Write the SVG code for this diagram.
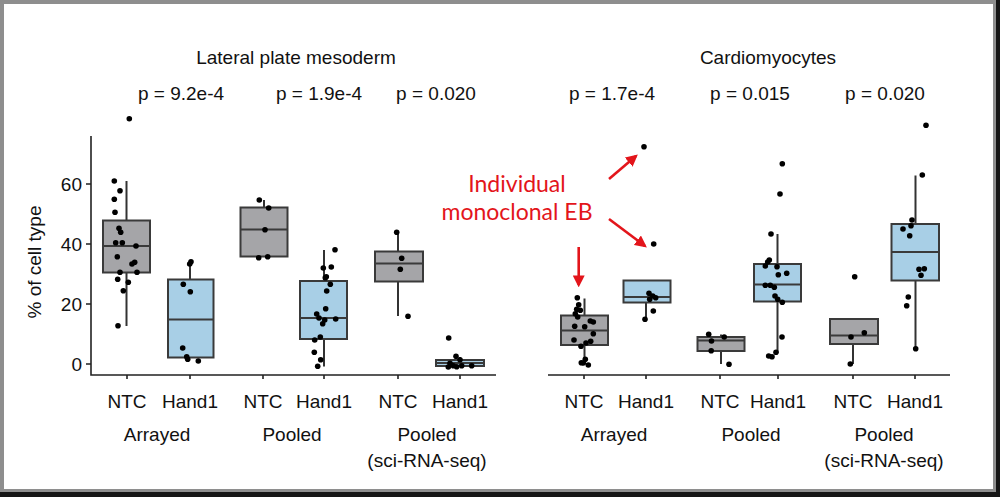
<svg xmlns="http://www.w3.org/2000/svg" width="1000" height="497" viewBox="0 0 1000 497">
<style>
.t{font-family:"Liberation Sans",Arial,sans-serif;font-size:19px;fill:#111;text-anchor:middle}
.yl{font-family:"Liberation Sans",Arial,sans-serif;font-size:19px;fill:#111;text-anchor:end}
.red{font-family:Lato,"Open Sans",sans-serif;font-size:23px;fill:#e3151b;text-anchor:middle}
.ax{stroke:#222;stroke-width:1.6;fill:none}
.wh{stroke:#333;stroke-width:2;fill:none}
.bg{fill:#a5a5a8;stroke:#3a3a3a;stroke-width:2}
.bb{fill:#a8cfe6;stroke:#3a3a3a;stroke-width:2}
.md{stroke:#3a3a3a;stroke-width:2}
.pt circle{fill:#000}
.arr{stroke:#e3151b;stroke-width:2.6;fill:none;marker-end:url(#ah)}
</style>
<defs>
<marker id="ah" viewBox="0 0 10 10" refX="8" refY="5" markerWidth="4.6" markerHeight="4.6" orient="auto" markerUnits="strokeWidth">
<path d="M0,0 L10,5 L0,10 z" fill="#e3151b"/>
</marker>
</defs>
<g id="frame">
<rect x="0" y="0" width="1000" height="497" fill="#8e8e8e"/>
<rect x="996" y="0" width="4" height="497" fill="#151515"/>
<rect x="0" y="492" width="1000" height="5" fill="#151515"/>
<rect x="4" y="4" width="989" height="485" fill="#ffffff"/>
</g>
<g id="titles">
<text class="t" x="296" y="64">Lateral plate mesoderm</text>
<text class="t" x="768" y="64">Cardiomyocytes</text>
<text class="t" x="181" y="100">p = 9.2e-4</text>
<text class="t" x="319" y="100">p = 1.9e-4</text>
<text class="t" x="436" y="100">p = 0.020</text>
<text class="t" x="612" y="100">p = 1.7e-4</text>
<text class="t" x="750" y="100">p = 0.015</text>
<text class="t" x="885" y="100">p = 0.020</text>
</g>
<g id="axes">
<path class="ax" d="M91,136 V375 H496 M548,375 H950"/>
<path class="ax" d="M86,184 H91 M86,244 H91 M86,304 H91 M86,364 H91"/>
<path class="ax" d="M127,375 v4 M190,375 v4 M263,375 v4 M324,375 v4 M398,375 v4 M460,375 v4 M584,375 v4 M646,375 v4 M720,375 v4 M778,375 v4 M853,375 v4 M915,375 v4"/>
<text class="yl" x="82" y="191">60</text>
<text class="yl" x="82" y="251">40</text>
<text class="yl" x="82" y="311">20</text>
<text class="yl" x="82" y="371">0</text>
<text class="t" transform="translate(41,262) rotate(-90)">% of cell type</text>
</g>
<g id="xlabels">
<text class="t" x="127" y="408">NTC</text>
<text class="t" x="190" y="408">Hand1</text>
<text class="t" x="263" y="408">NTC</text>
<text class="t" x="324" y="408">Hand1</text>
<text class="t" x="398" y="408">NTC</text>
<text class="t" x="460" y="408">Hand1</text>
<text class="t" x="584" y="408">NTC</text>
<text class="t" x="646" y="408">Hand1</text>
<text class="t" x="720" y="408">NTC</text>
<text class="t" x="778" y="408">Hand1</text>
<text class="t" x="853" y="408">NTC</text>
<text class="t" x="915" y="408">Hand1</text>
<text class="t" x="157" y="441">Arrayed</text>
<text class="t" x="292" y="441">Pooled</text>
<text class="t" x="427" y="441">Pooled</text>
<text class="t" x="427" y="467">(sci-RNA-seq)</text>
<text class="t" x="614" y="441">Arrayed</text>
<text class="t" x="751" y="441">Pooled</text>
<text class="t" x="884" y="441">Pooled</text>
<text class="t" x="884" y="467">(sci-RNA-seq)</text>
</g>
<g id="box-lpm-arrayed-ntc">
<path class="wh" d="M126.5,181 V326"/>
<rect class="bg" x="103" y="220.5" width="47" height="52"/>
<path class="md" d="M103,246 H150"/>
<g class="pt"><circle cx="129.3" cy="118.7" r="2.8"/><circle cx="114.3" cy="181" r="2.8"/><circle cx="120" cy="190.7" r="2.8"/><circle cx="114.3" cy="199.3" r="2.8"/><circle cx="115" cy="212.3" r="2.8"/><circle cx="119" cy="228.3" r="2.8"/><circle cx="120.7" cy="232.3" r="2.8"/><circle cx="115.7" cy="242.7" r="2.8"/><circle cx="122.3" cy="242.7" r="2.8"/><circle cx="136" cy="246" r="2.8"/><circle cx="117.3" cy="256.7" r="2.8"/><circle cx="132" cy="264" r="2.8"/><circle cx="134.7" cy="262.3" r="2.8"/><circle cx="120" cy="272.3" r="2.8"/><circle cx="137" cy="272.3" r="2.8"/><circle cx="117.7" cy="279.3" r="2.8"/><circle cx="128.3" cy="282.3" r="2.8"/><circle cx="123.3" cy="290.7" r="2.8"/><circle cx="118" cy="325.7" r="2.8"/></g>
</g>
<g id="box-lpm-arrayed-hand1">
<path class="wh" d="M190,260.5 V279.5"/>
<rect class="bb" x="168" y="279.5" width="45.5" height="78"/>
<path class="md" d="M168,319.5 H213.5"/>
<g class="pt"><circle cx="191" cy="261.7" r="2.8"/><circle cx="189.7" cy="264" r="2.8"/><circle cx="183.3" cy="284.3" r="2.8"/><circle cx="190.3" cy="291.7" r="2.8"/><circle cx="182.7" cy="348" r="2.8"/><circle cx="186.7" cy="356.7" r="2.8"/><circle cx="187.7" cy="359.3" r="2.8"/><circle cx="198.3" cy="361" r="2.8"/></g>
</g>
<g id="box-lpm-pooled-ntc">
<path class="wh" d="M264,200 V207.5"/>
<rect class="bg" x="240.5" y="207.5" width="47" height="49"/>
<path class="md" d="M240.5,229.5 H287.5"/>
<g class="pt"><circle cx="259.3" cy="200" r="2.8"/><circle cx="268.7" cy="208" r="2.8"/><circle cx="265" cy="229.7" r="2.8"/><circle cx="258.7" cy="257.7" r="2.8"/><circle cx="267.7" cy="256.7" r="2.8"/></g>
</g>
<g id="box-lpm-pooled-hand1">
<path class="wh" d="M324,250 V366.5"/>
<rect class="bb" x="300" y="281" width="47" height="58"/>
<path class="md" d="M300,318 H347"/>
<g class="pt"><circle cx="335" cy="249.7" r="2.8"/><circle cx="323.3" cy="268" r="2.8"/><circle cx="331.3" cy="267" r="2.8"/><circle cx="326.3" cy="276.7" r="2.8"/><circle cx="325.3" cy="277.7" r="2.8"/><circle cx="330.3" cy="284.3" r="2.8"/><circle cx="326.7" cy="291" r="2.8"/><circle cx="325.7" cy="308.7" r="2.8"/><circle cx="316.7" cy="314" r="2.8"/><circle cx="319" cy="318" r="2.8"/><circle cx="324.7" cy="320" r="2.8"/><circle cx="322.7" cy="323.7" r="2.8"/><circle cx="335.7" cy="319" r="2.8"/><circle cx="320.3" cy="337" r="2.8"/><circle cx="314.7" cy="340" r="2.8"/><circle cx="314.3" cy="352.3" r="2.8"/><circle cx="320.7" cy="359.7" r="2.8"/><circle cx="317.7" cy="366.3" r="2.8"/></g>
</g>
<g id="box-lpm-sci-ntc">
<path class="wh" d="M398,232.5 V316"/>
<rect class="bg" x="375" y="251.5" width="48" height="30"/>
<path class="md" d="M375,263.5 H423"/>
<g class="pt"><circle cx="396.7" cy="232.3" r="2.8"/><circle cx="401.7" cy="258.3" r="2.8"/><circle cx="400.3" cy="269.3" r="2.8"/><circle cx="408" cy="316.3" r="2.8"/></g>
</g>
<g id="box-lpm-sci-hand1">
<path class="wh" d="M460,357 V360"/>
<rect class="bb" x="436" y="360" width="48" height="6"/>
<path class="md" d="M436,363 H484"/>
<g class="pt"><circle cx="448.7" cy="338" r="2.8"/><circle cx="456" cy="356.3" r="2.8"/><circle cx="460" cy="359.7" r="2.8"/><circle cx="450" cy="363.3" r="2.8"/><circle cx="453.3" cy="365.7" r="2.8"/><circle cx="448.3" cy="367" r="2.8"/><circle cx="461.7" cy="365.7" r="2.8"/><circle cx="471.7" cy="365.7" r="2.8"/><circle cx="456.7" cy="366.7" r="2.8"/></g>
</g>
<g id="box-cm-arrayed-ntc">
<path class="wh" d="M584.5,298.5 V362"/>
<rect class="bg" x="561" y="315.5" width="47" height="29.5"/>
<path class="md" d="M561,330.5 H608"/>
<g class="pt"><circle cx="577.3" cy="297.7" r="2.8"/><circle cx="578.7" cy="304.7" r="2.8"/><circle cx="576.7" cy="309.3" r="2.8"/><circle cx="580.3" cy="310.3" r="2.8"/><circle cx="575.3" cy="313.7" r="2.8"/><circle cx="577.7" cy="317" r="2.8"/><circle cx="590.3" cy="321" r="2.8"/><circle cx="593.3" cy="322" r="2.8"/><circle cx="574.7" cy="326.3" r="2.8"/><circle cx="584.7" cy="326.7" r="2.8"/><circle cx="593.3" cy="333.7" r="2.8"/><circle cx="574" cy="340" r="2.8"/><circle cx="590.7" cy="341.3" r="2.8"/><circle cx="586" cy="343" r="2.8"/><circle cx="581" cy="346.3" r="2.8"/><circle cx="585.3" cy="359.3" r="2.8"/><circle cx="581.3" cy="362.7" r="2.8"/><circle cx="583.3" cy="363" r="2.8"/><circle cx="588.3" cy="365" r="2.8"/></g>
</g>
<g id="box-cm-arrayed-hand1">
<path class="wh" d="M646,302.5 V319.5"/>
<rect class="bb" x="623.5" y="280.5" width="47" height="22"/>
<path class="md" d="M623.5,297 H670.5"/>
<g class="pt"><circle cx="644" cy="146.7" r="2.8"/><circle cx="653.7" cy="244" r="2.8"/><circle cx="649" cy="293.3" r="2.8"/><circle cx="652.7" cy="296" r="2.8"/><circle cx="655.7" cy="297.7" r="2.8"/><circle cx="649.7" cy="299.3" r="2.8"/><circle cx="653.3" cy="311" r="2.8"/><circle cx="645" cy="319.3" r="2.8"/></g>
</g>
<g id="box-cm-pooled-ntc">
<path class="wh" d="M721,334.5 V364"/>
<rect class="bg" x="697.5" y="337" width="47" height="14"/>
<path class="md" d="M697.5,340.5 H744.5"/>
<g class="pt"><circle cx="708.7" cy="334.3" r="2.8"/><circle cx="724.2" cy="337" r="2.8"/><circle cx="711.5" cy="341" r="2.8"/><circle cx="711.2" cy="350.7" r="2.8"/><circle cx="729" cy="364.2" r="2.8"/></g>
</g>
<g id="box-cm-pooled-hand1">
<path class="wh" d="M777.5,234 V353"/>
<rect class="bb" x="754" y="264" width="47" height="37.5"/>
<path class="md" d="M754,284.5 H801"/>
<g class="pt"><circle cx="782.3" cy="163.7" r="2.8"/><circle cx="780" cy="194" r="2.8"/><circle cx="771" cy="234" r="2.8"/><circle cx="769.3" cy="260" r="2.8"/><circle cx="767.7" cy="262" r="2.8"/><circle cx="765.3" cy="266" r="2.8"/><circle cx="777" cy="266.7" r="2.8"/><circle cx="786.7" cy="273.3" r="2.8"/><circle cx="778.3" cy="274.7" r="2.8"/><circle cx="765.3" cy="285.3" r="2.8"/><circle cx="770.3" cy="285.3" r="2.8"/><circle cx="774.3" cy="287.3" r="2.8"/><circle cx="775" cy="296" r="2.8"/><circle cx="777.7" cy="299.3" r="2.8"/><circle cx="782.3" cy="302.3" r="2.8"/><circle cx="782" cy="337" r="2.8"/><circle cx="776" cy="352.3" r="2.8"/><circle cx="768.7" cy="356" r="2.8"/><circle cx="772" cy="356.7" r="2.8"/></g>
</g>
<g id="box-cm-sci-ntc">
<path class="wh" d="M853,344 V364"/>
<rect class="bg" x="830" y="319" width="48" height="25"/>
<path class="md" d="M830,335.5 H878"/>
<g class="pt"><circle cx="854.7" cy="276.7" r="2.8"/><circle cx="864.3" cy="332.7" r="2.8"/><circle cx="851" cy="337" r="2.8"/><circle cx="850.3" cy="364" r="2.8"/></g>
</g>
<g id="box-cm-sci-hand1">
<path class="wh" d="M915.5,175.5 V349"/>
<rect class="bb" x="891.5" y="224" width="47.5" height="56.5"/>
<path class="md" d="M891.5,252 H939"/>
<g class="pt"><circle cx="926" cy="125.3" r="2.8"/><circle cx="922.3" cy="175" r="2.8"/><circle cx="912" cy="220" r="2.8"/><circle cx="911" cy="225.7" r="2.8"/><circle cx="903" cy="229" r="2.8"/><circle cx="909.7" cy="235.7" r="2.8"/><circle cx="919" cy="269.3" r="2.8"/><circle cx="924.3" cy="268.7" r="2.8"/><circle cx="921" cy="275.3" r="2.8"/><circle cx="908.3" cy="297" r="2.8"/><circle cx="906.7" cy="305.7" r="2.8"/><circle cx="915.7" cy="348.7" r="2.8"/></g>
</g>
<g id="annotation">
<text class="red" x="517" y="192">Individual</text>
<text class="red" x="517" y="220">monoclonal EB</text>
</g>
<g id="connectors">
<path class="arr" d="M609,179 L636,156"/>
<path class="arr" d="M609,219 L645,246"/>
<path class="arr" d="M578.7,247 V285"/>
</g>
</svg>
